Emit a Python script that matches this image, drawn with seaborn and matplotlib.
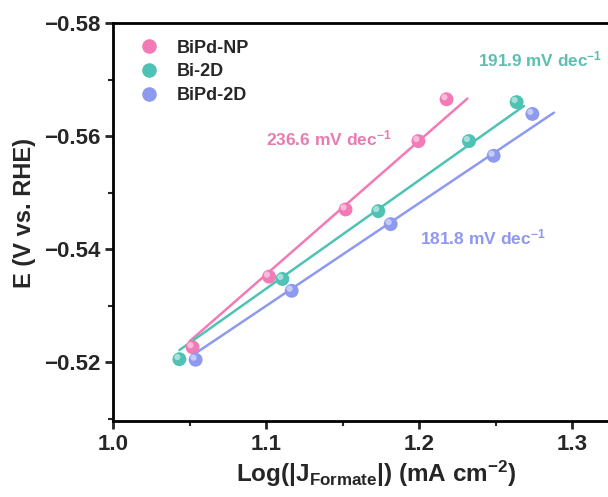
import numpy as np
import pandas as pd
import matplotlib
matplotlib.use("Agg")
import matplotlib.pyplot as plt
import matplotlib.transforms as mtransforms
from matplotlib.lines import Line2D
import seaborn as sns

# ---- data ----
series_names = ["BiPd-NP", "Bi-2D", "BiPd-2D"]
bipd_np_x = [1.052, 1.102, 1.152, 1.1996, 1.218]
bipd_np_y = [-0.5226, -0.5351, -0.5470, -0.5591, -0.5665]
bi_2d_x = [1.0434, 1.1107, 1.1734, 1.2327, 1.2638]
bi_2d_y = [-0.5205, -0.5347, -0.5467, -0.5591, -0.5660]
bipd_2d_x = [1.054, 1.1168, 1.1815, 1.2488, 1.2741]
bipd_2d_y = [-0.5204, -0.5326, -0.5444, -0.5565, -0.5639]
tafel_slopes_mV = [236.6, 191.9, 181.8]
fit_x_start = [1.05, 1.0434, 1.054]
fit_x_end = [1.2316, 1.2686, 1.2882]
x_ticks = [1.0, 1.1, 1.2, 1.3]
y_ticks = [-0.58, -0.56, -0.54, -0.52]

colors = {"BiPd-NP": "#F27AB6", "Bi-2D": "#4EC2B4", "BiPd-2D": "#8E9AF0"}
text_colors = {"BiPd-NP": "#E87CB2", "Bi-2D": "#5DBFB1", "BiPd-2D": "#8F98EE"}

xs = [bipd_np_x, bi_2d_x, bipd_2d_x]
ys = [bipd_np_y, bi_2d_y, bipd_2d_y]
df = pd.concat([pd.DataFrame({"x": x, "y": y, "s": n}) for n, x, y in zip(series_names, xs, ys)],
               ignore_index=True)

sns.set_theme(style="ticks")
plt.rcParams["font.family"] = ["Liberation Sans", "DejaVu Sans"]
plt.rcParams["font.weight"] = "bold"
plt.rcParams["mathtext.fontset"] = "custom"
plt.rcParams["mathtext.rm"] = "Liberation Sans:bold"
plt.rcParams["mathtext.bf"] = "Liberation Sans:bold"
plt.rcParams["mathtext.it"] = "Liberation Sans:bold"
plt.rcParams["mathtext.default"] = "bf"

fig = plt.figure(figsize=(6.08, 4.97), dpi=100)
ax = fig.add_axes([113 / 608, 1 - 421 / 497, (612 - 113) / 608, (421 - 23) / 497])

# Tafel fit lines: fixed slope (from labels), least-squares intercept
fit_rows = []
for n, x, y, k_mv, x0, x1 in zip(series_names, xs, ys, tafel_slopes_mV, fit_x_start, fit_x_end):
    k = -k_mv / 1000.0
    b = np.mean(y) - k * np.mean(x)
    fit_rows.append(pd.DataFrame({"x": [x0, x1], "y": [k * x0 + b, k * x1 + b], "s": n}))
fit_df = pd.concat(fit_rows, ignore_index=True)
sns.lineplot(data=fit_df, x="x", y="y", hue="s", palette=colors, lw=1.8, legend=False, ax=ax, zorder=2)

# points (ball look)
sns.scatterplot(data=df, x="x", y="y", hue="s", palette=colors, s=100, edgecolor="none",
                legend=False, ax=ax, zorder=3)
hl = mtransforms.offset_copy(ax.transData, fig=fig, x=-1.5, y=1.5, units="points")
ax.scatter(df["x"], df["y"], s=20, color="white", alpha=0.5, edgecolor="none", transform=hl, zorder=4)

# annotations
lab = [f"{v} mV dec$^{{-1}}$" for v in tafel_slopes_mV]
ax.text(1.1003, -0.5595, lab[0], color=text_colors["BiPd-NP"], fontsize=12.5,
        fontweight="bold", va="center", ha="left")
ax.text(1.2386, -0.5735, lab[1], color=text_colors["Bi-2D"], fontsize=12.3,
        fontweight="bold", va="center", ha="left")
ax.text(1.2007, -0.5421, lab[2], color=text_colors["BiPd-2D"], fontsize=12.5,
        fontweight="bold", va="center", ha="left")

ax.set_xlim(1.0, 1.0 + (612 - 113) / 1530)
ax.set_ylim(-0.52 + (421 - 362) / 5650, -0.58)
ax.set_xticks(x_ticks)
ax.set_yticks(y_ticks)
ax.set_xticklabels([f"{v:.1f}" for v in x_ticks])
ax.set_yticklabels([f"{v:.2f}".replace("-", "\u2212") for v in y_ticks])
ax.xaxis.set_minor_locator(matplotlib.ticker.MultipleLocator(0.05))
ax.yaxis.set_minor_locator(matplotlib.ticker.MultipleLocator(0.01))
ax.tick_params(which="major", direction="out", length=6, width=2, labelsize=16, pad=3,
               top=False, right=False)
ax.tick_params(which="minor", direction="out", length=3.5, width=1.5, top=False, right=False)
for t in ax.get_xticklabels() + ax.get_yticklabels():
    t.set_fontweight("bold")
for sp in ax.spines.values():
    sp.set_linewidth(2)
    sp.set_color("black")
ax.spines["right"].set_visible(False)

ax.set_xlabel(r"Log($\mathrm{|}$J$_{\mathrm{Formate}}$$\mathrm{|}$) (mA cm$^{-2}$)", fontsize=17.5, fontweight="bold")
ax.set_ylabel("E (V vs. RHE)", fontsize=17, fontweight="bold")
ax.xaxis.set_label_coords((376 - 113) / 499, -(459 - 421) / 398)
ax.yaxis.set_label_coords((36 - 113) / 499, (421 - 213) / 398)

handles = [Line2D([], [], ls="none", marker="o", ms=10.5, mfc=colors[n], mec="none") for n in series_names]
leg = ax.legend(handles, series_names, loc="upper left", bbox_to_anchor=(0.01, 0.99), frameon=False,
                prop={"weight": "bold", "size": 13}, handletextpad=0.55, labelspacing=0.38,
                borderaxespad=0.3)

fig.savefig("out.png", dpi=100)
